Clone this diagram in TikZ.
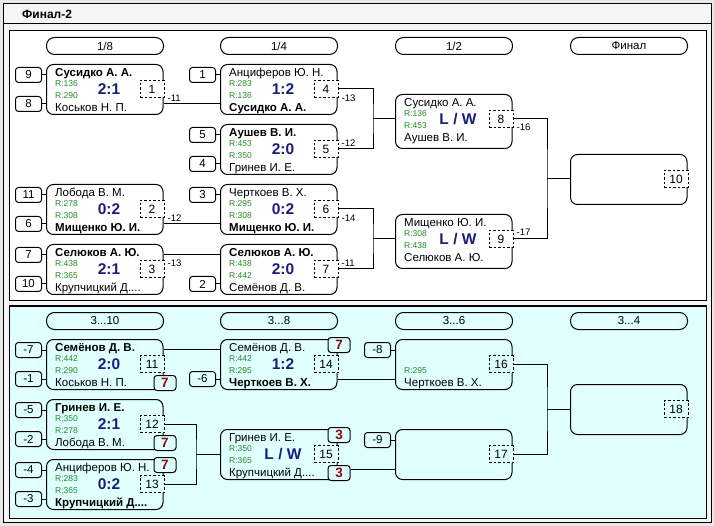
\documentclass[tikz,border=0pt]{standalone}
\usepackage{fontspec}
\setmainfont{Liberation Sans}
\usepackage{xcolor}
\usepackage{tikz}
\usetikzlibrary{calc}
\definecolor{frame}{HTML}{E8E8E8}
\definecolor{formbg}{HTML}{F5F5F5}
\definecolor{lowbg}{HTML}{E0FFFF}
\definecolor{rgreen}{HTML}{228B22}
\definecolor{snavy}{HTML}{1C1C7C}
\definecolor{redx}{HTML}{8B0A0A}
\colorlet{pbg}{white}
\newcommand{\fsz}[1]{\fontsize{#1}{#1}\selectfont}
% game box with its dashed number
\newcommand{\game}[4][50]{%
 \node[game,minimum height=#1pt,anchor=north west] (#2) at (#3) {};
 \node[gnum,anchor=east] (#2-n) at ($(#2.north east)+(0.5,25)$) {#4};}
% players, ratings and score of a game
\newcommand{\duel}[6]{%
 \node[pname] (#1-t) at ($(#1.north west)+(9,12.7)$) {#2};
 \node[pname] (#1-b) at ($(#1.north west)+(9,47.5)$) {#3};
 \node[rating] (#1-ra) at ($(#1.north west)+(9,20)$) {#4};
 \node[rating] (#1-rb) at ($(#1.north west)+(9,32)$) {#5};
 \node[score] (#1-s) at ($(#1.north west)+(63,25)$) {#6};}

\begin{document}
\begin{tikzpicture}[x=1pt,y=-1pt,
 wire/.style={line width=1pt},
 panel/.style={draw,line width=1pt},
 pill/.style={draw,line width=1pt,rounded corners=8pt,fill=pbg,minimum width=117pt,minimum height=17pt,inner sep=0pt,font=\fsz{11.5}},
 game/.style={draw,line width=1pt,rounded corners=7pt,fill=pbg,minimum width=116.5pt,inner sep=0pt},
 gnum/.style={draw,dashed,dash pattern=on 2.5pt off 2pt,line width=1pt,fill=pbg,minimum width=24pt,minimum height=17pt,inner sep=0pt,outer sep=0pt,font=\fsz{12}},
 seed/.style={draw,line width=1pt,rounded corners=3pt,fill=pbg,minimum width=26pt,minimum height=15pt,inner sep=0pt,font=\fsz{11.5}},
 redbox/.style={draw,line width=1pt,rounded corners=3pt,fill=pbg,minimum width=22pt,minimum height=15pt,inner sep=0pt,text=redx,font=\fsz{13.5}\bfseries},
 pname/.style={anchor=base west,inner sep=0pt,font=\fsz{11.5}},
 rating/.style={anchor=west,inner sep=0pt,text=rgreen,font=\fsz{8.5}},
 score/.style={inner sep=0pt,text=snavy,font=\fsz{15.5}\bfseries},
 loss/.style={anchor=west,inner sep=0pt,font=\fsz{9.5}}]
\useasboundingbox (0,0) rectangle (714,526);
\fill[frame] (0,0) rectangle (714,526);
\draw[panel,fill=formbg] (3,4) rectangle (711,522);
\draw[panel] (3,24) -- (711,24);
\node[anchor=west,inner sep=0pt,font=\fsz{12}\bfseries] (title) at (22,14) {Финал-2};

% main draw
\draw[panel,fill=white] (9,31) rectangle (706,301);
\foreach \x/\txt/\nm in {46/{1/8}/h1,220/{1/4}/h2,395/{1/2}/h3,570/Финал/h4}
 \node[pill,anchor=north west] (\nm) at (\x,37) {\txt};
\game{m1}{46,64}{1}
\duel{m1}{\bfseries Сусидко А. А.}{Коськов Н. П.}{R:136}{R:290}{2:1}
\game{m2}{46,184}{2}
\duel{m2}{Лобода В. М.}{\bfseries Мищенко Ю. И.}{R:278}{R:308}{0:2}
\game{m3}{46,244}{3}
\duel{m3}{\bfseries Селюков А. Ю.}{Крупчицкий Д....}{R:438}{R:365}{2:1}
\game{m4}{220,64}{4}
\duel{m4}{Анциферов Ю. Н.}{\bfseries Сусидко А. А.}{R:283}{R:136}{1:2}
\game{m5}{220,124}{5}
\duel{m5}{\bfseries Аушев В. И.}{Гринев И. Е.}{R:453}{R:350}{2:0}
\game{m6}{220,184}{6}
\duel{m6}{Черткоев В. Х.}{\bfseries Мищенко Ю. И.}{R:295}{R:308}{0:2}
\game{m7}{220,244}{7}
\duel{m7}{\bfseries Селюков А. Ю.}{Семёнов Д. В.}{R:438}{R:442}{2:0}
\game[54]{m8}{395,94}{8}
\duel{m8}{Сусидко А. А.}{Аушев В. И.}{R:136}{R:453}{L / W}
\game[54]{m9}{395,214}{9}
\duel{m9}{Мищенко Ю. И.}{Селюков А. Ю.}{R:308}{R:438}{L / W}
\game{m10}{570,154}{10}
\foreach \g/\dy/\txt/\nm in {m1/11/9/s1,m1/40/8/s2,m2/11/11/s3,m2/40/6/s4,m3/11/7/s5,m3/40/10/s6,
 m4/11/1/s7,m5/11/5/s8,m5/40/4/s9,m6/11/3/s10,m7/40/2/s11}
 {\node[seed,anchor=east] (\nm) at ($(\g.north west)+(-4,\dy)$) {\txt};
  \draw[wire] (\nm) -- (\nm -| \g.west);}
\foreach \g/\dy/\txt in {m1/34/-11,m2/34/-12,m3/19/-13,m4/34/-13,m5/19/-12,m6/34/-14,m7/19/-11,m8/33/-16,m9/18/-17}
 \node[loss] (\g-l) at ($(\g.north east)+(4,\dy)$) {\txt};
\coordinate (e4) at ($(m4.north west)+(0,40)$);
\coordinate (e6) at ($(m6.north west)+(0,40)$);
\coordinate (e7) at ($(m7.north west)+(0,11)$);
\draw[wire] (e4 -| m1.east) -- (e4);
\draw[wire] (e6 -| m2.east) -- (e6);
\draw[wire] (e7 -| m3.east) -- (e7);

% places 3 to 10
\colorlet{pbg}{lowbg}
\draw[panel,fill=lowbg] (9,306) rectangle (706,518);
\node[pill,anchor=north west] (h5) at (46,312) {3...10};
\node[pill,anchor=north west] (h6) at (220,312) {3...8};
\node[pill,anchor=north west] (h7) at (395,312) {3...6};
\node[pill,anchor=north west] (h8) at (570,312) {3...4};
\game{m11}{46,339}{11}
\duel{m11}{\bfseries Семёнов Д. В.}{Коськов Н. П.}{R:442}{R:290}{2:0}
\game{m12}{46,399}{12}
\duel{m12}{\bfseries Гринев И. Е.}{Лобода В. М.}{R:350}{R:278}{2:1}
\game{m13}{46,459}{13}
\duel{m13}{Анциферов Ю. Н.}{\bfseries Крупчицкий Д....}{R:283}{R:365}{0:2}
\game{m14}{220,339}{14}
\duel{m14}{Семёнов Д. В.}{\bfseries Черткоев В. Х.}{R:442}{R:295}{1:2}
\game{m15}{220,429}{15}
\duel{m15}{Гринев И. Е.}{Крупчицкий Д....}{R:350}{R:365}{L / W}
\game{m16}{395,339}{16}
\node[rating] (m16-rb) at ($(m16.north west)+(9,32)$) {R:295};
\node[pname] (m16-b) at ($(m16.north west)+(9,47.5)$) {Черткоев В. Х.};
\game{m17}{395,429}{17}
\game{m18}{570,384}{18}
\foreach \g/\dy/\txt/\nm in {m11/11/-7/s12,m11/40/-1/s13,m12/11/-5/s14,m12/40/-2/s15,m13/11/-4/s16,m13/40/-3/s17,
 m14/40/-6/s18,m16/11/-8/s19,m17/11/-9/s20}
 {\node[seed,anchor=east] (\nm) at ($(\g.north west)+(-4,\dy)$) {\txt};
  \draw[wire] (\nm) -- (\nm -| \g.west);}
\foreach \g/\dy/\txt/\nm in {m11/44/7/q,m12/44/7/q,m13/6/7/p,m14/6/7/p,m15/6/3/p,m15/44/3/q}
 \node[redbox] (\g-\nm) at ($(\g.north east)+(1.5,\dy)$) {\txt};
\coordinate (e14) at ($(m14.north west)+(0,10)$);
\coordinate (e16) at ($(m16.north west)+(0,40)$);
\coordinate (e17) at ($(m17.north west)+(0,40)$);
\draw[wire] (e14 -| m11.east) -- (e14);
\draw[wire] (e16 -| m14.east) -- (e16);
\draw[wire] (e17 -| m15-q.east) -- (e17);

% brackets to the next round
\foreach \ga/\gb/\gc/\dx in {m4/m5/m8/35,m6/m7/m9/35,m8/m9/m10/34,m12/m13/m15/32,m16/m17/m18/34}
 {\coordinate (j\gc) at ($(\ga-n.east)!0.5!(\gb-n.east)+(\dx,0)$);
  \draw[wire] (\ga-n.east) -| (j\gc) |- (\gb-n.east);
  \draw[wire] (j\gc) -- (j\gc -| \gc.west);}
\end{tikzpicture}
\end{document}
